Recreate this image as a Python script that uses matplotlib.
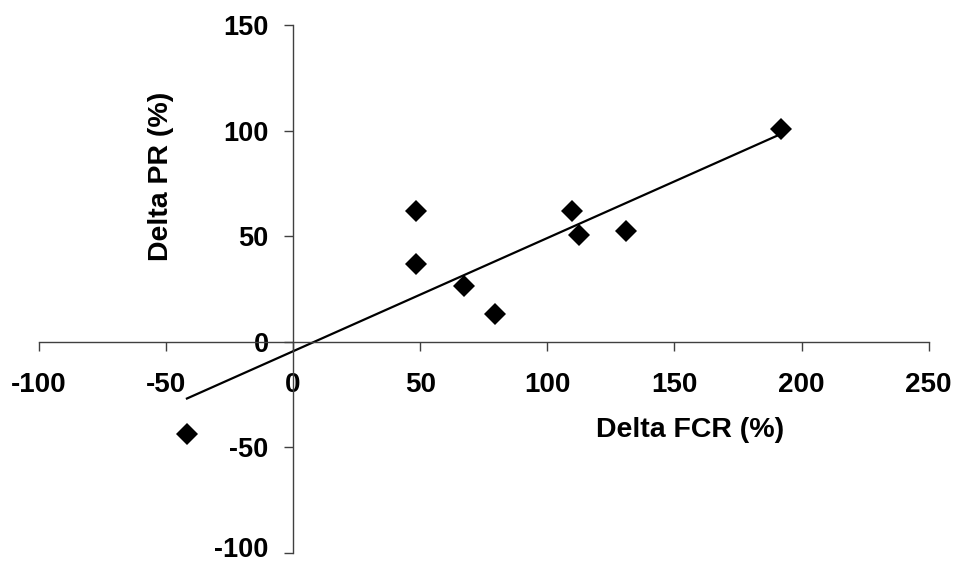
import numpy as np
import matplotlib
matplotlib.use("Agg")
import matplotlib.pyplot as plt
import matplotlib.transforms as mtransforms

plt.rcParams['font.family'] = ['Liberation Sans', 'DejaVu Sans']
plt.rcParams['axes.unicode_minus'] = False

### data
delta_fcr = [-41.7, 48.3, 48.3, 67.3, 79.5, 109.6, 112.4, 131.0, 192.0]
delta_pr = [-43.7, 61.8, 36.8, 26.3, 13.1, 62.1, 50.6, 52.6, 100.8]
x_ticks = [-100, -50, 0, 50, 100, 150, 200, 250]
y_ticks = [-100, -50, 0, 50, 100, 150]

# Figure
fig = plt.figure(figsize=(9.55, 5.65), dpi=100, facecolor='w')
ax = fig.add_axes([0.0405, 0.0215, 0.932, 0.9337])

# Points
ax.plot(delta_fcr, delta_pr, linestyle='none', marker='D', markersize=11,
        color='black', markeredgewidth=0, zorder=3)

# Linear trend line, drawn over the range of the data
slope, intercept = np.polyfit(delta_fcr, delta_pr, 1)
xl = np.array([min(delta_fcr), max(delta_fcr)])
ax.plot(xl, slope * xl + intercept, color='black', linewidth=1.6, zorder=2)

# Limits
ax.set_xlim(-100, 250)
ax.set_ylim(-100, 150)

# Axes crossing at the origin
for side in ['top', 'right']:
    ax.spines[side].set_visible(False)
ax.spines['left'].set_position(('data', 0))
ax.spines['bottom'].set_position(('data', 0))
for side in ['left', 'bottom']:
    ax.spines[side].set_color('#404040')
    ax.spines[side].set_linewidth(1.0)

# Ticks
ax.set_xticks(x_ticks)
ax.set_yticks(y_ticks)
ax.tick_params(axis='x', direction='out', length=6.5, width=1, color='#404040',
               pad=15.5, labelsize=20)
ax.tick_params(axis='y', direction='out', length=6.5, width=1, color='#404040',
               pad=11, labelsize=19.5)
for lab in ax.get_xticklabels() + ax.get_yticklabels():
    lab.set_fontweight('bold')

# keep the lowest y label inside the picture
low = ax.get_yticklabels()[0]
low.set_transform(low.get_transform() +
                  mtransforms.ScaledTranslation(0, 4 / 72, fig.dpi_scale_trans))

# Text
ax.text(0.7324, 0.2331, 'Delta FCR (%)', transform=ax.transAxes,
        ha='center', va='center', fontsize=20.5, fontweight='bold')
ax.text(0.1374, 0.7142, 'Delta PR (%)', transform=ax.transAxes, rotation=90,
        ha='center', va='center', fontsize=20.5, fontweight='bold')

fig.savefig('out.png', dpi=100, facecolor='w')
